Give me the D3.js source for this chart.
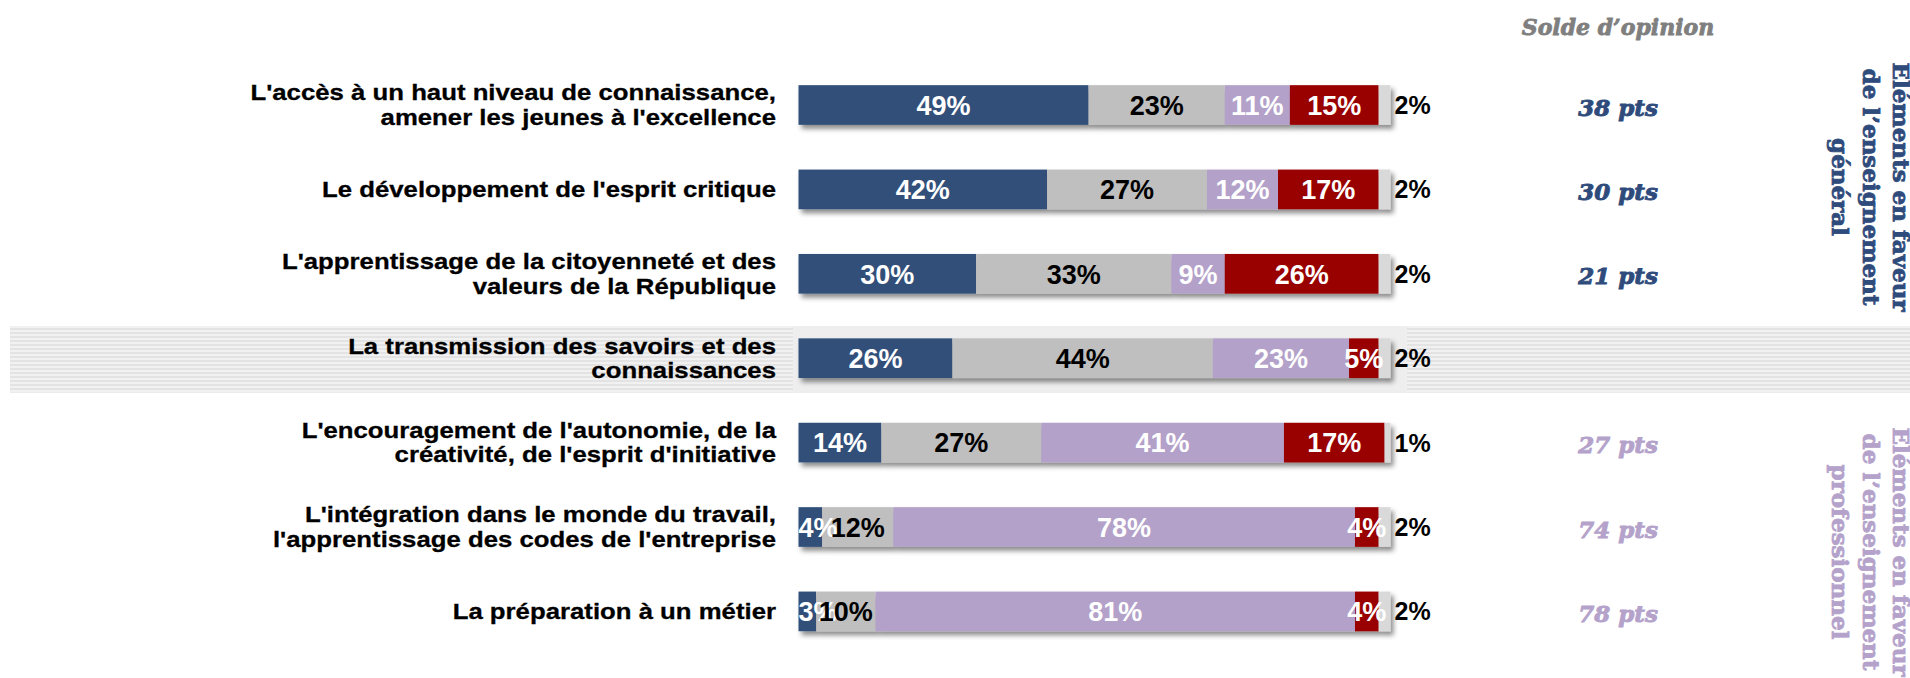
<!DOCTYPE html>
<html>
<head>
<meta charset="utf-8">
<script src="https://cdn.jsdelivr.net/npm/d3@7"></script>
<style>
  html, body { margin: 0; padding: 0; background: #fff; overflow: hidden; }
</style>
</head>
<body>
<div id="my_dataviz"></div>
<script>
// items (left labels), one entry per line
var items = [
    ["L'accès à un haut niveau de connaissance,", "amener les jeunes à l'excellence"],
    ["Le développement de l'esprit critique"],
    ["L'apprentissage de la citoyenneté et des", "valeurs de la République"],
    ["La transmission des savoirs et des", "connaissances"],
    ["L'encouragement de l'autonomie, de la", "créativité, de l'esprit d'initiative"],
    ["L'intégration dans le monde du travail,", "l'apprentissage des codes de l'entreprise"],
    ["La préparation à un métier"]
];

// series values (%)
var pctGeneral = [49, 42, 30, 26, 14, 4, 3];
var pctBoth    = [23, 27, 33, 44, 27, 12, 10];
var pctPro     = [11, 12, 9, 23, 41, 78, 81];
var pctNeither = [15, 17, 26, 5, 17, 4, 4];
var pctNsp     = [2, 2, 2, 2, 1, 2, 2];

// solde d'opinion
var soldes = [38, 30, 21, null, 27, 74, 78];
var soldeSide = ["general", "general", "general", null, "pro", "pro", "pro"];

var sideTitles = {
    general: ["Eléments en faveur", "de l’enseignement", "général"],
    pro: ["Eléments en faveur", "de l’enseignement", "professionnel"]
};

var keys = ["general", "both", "pro", "neither", "nsp"];
var colors = {general: "#30507a", both: "#bfbfbf", pro: "#b3a1c9", neither: "#990000", nsp: "#d9d9d9"};
var textColors = {general: "#fff", both: "#000", pro: "#fff", neither: "#fff", nsp: "#000"};
var sideColors = {general: "#2f4b7b", pro: "#b4a2cb"};

var width = 1910, height = 678;

var rows = items.map(function(d, i) {
    return {id: i, general: pctGeneral[i], both: pctBoth[i], pro: pctPro[i],
            neither: pctNeither[i], nsp: pctNsp[i]};
});

var x = d3.scaleLinear().domain([0, 100]).range([798.5, 1390.5]);
var y = d3.scaleBand().domain(d3.range(items.length))
    .range([62.8, 653.6]).paddingInner(0.53).paddingOuter(0.265);

var svg = d3.select("#my_dataviz")
    .append("svg")
        .attr("width", width)
        .attr("height", height);

var defs = svg.append("defs");

var pat = defs.append("pattern")
    .attr("id", "stripes")
    .attr("patternUnits", "userSpaceOnUse")
    .attr("width", 8).attr("height", 4);
pat.append("rect").attr("width", 8).attr("height", 4).attr("fill", "#f1f1f1");
pat.append("rect").attr("width", 8).attr("height", 2).attr("fill", "#e3e3e3");

defs.append("filter")
    .attr("id", "shadow")
    .attr("x", "-5%").attr("y", "-30%").attr("width", "110%").attr("height", "170%")
  .append("feDropShadow")
    .attr("dx", 3).attr("dy", 4)
    .attr("stdDeviation", 2.5)
    .attr("flood-color", "#000")
    .attr("flood-opacity", 0.45);

// highlighted band behind row 4
var bandTop = 326, bandBottom = 392.7;
svg.append("rect")
    .attr("x", 10).attr("y", bandTop)
    .attr("width", width - 10).attr("height", bandBottom - bandTop)
    .attr("fill", "url(#stripes)");
svg.append("rect")
    .attr("x", 793).attr("y", bandTop)
    .attr("width", 1407 - 793).attr("height", bandBottom - bandTop)
    .attr("fill", "#eeeeee");

// stacked bars
var series = d3.stack().keys(keys)(rows);

var barRows = svg.append("g")
    .selectAll("g")
    .data(rows)
    .join("g")
        .attr("filter", "url(#shadow)");

barRows.selectAll("rect")
    .data(function(r) { return series.map(function(s) { return {key: s.key, v: s[r.id], id: r.id}; }); })
    .join("rect")
        .attr("x", function(d) { return x(d.v[0]); })
        .attr("y", function(d) { return y(d.id); })
        .attr("width", function(d) { return x(d.v[1]) - x(d.v[0]); })
        .attr("height", y.bandwidth())
        .attr("fill", function(d) { return colors[d.key]; });

// value labels
series.forEach(function(s) {
    svg.append("g")
        .selectAll("text")
        .data(s)
        .join("text")
            .attr("x", function(d) {
                return s.key == "nsp" ? x(d[1]) + 4 : (x(d[0]) + x(d[1])) / 2;
            })
            .attr("y", function(d, i) { return y(i) + y.bandwidth() / 2; })
            .attr("dy", "0.36em")
            .attr("text-anchor", s.key == "nsp" ? "start" : "middle")
            .style("font", s.key == "nsp" ? "bold 25px 'Liberation Sans', Arial, sans-serif"
                                          : "bold 27px 'Liberation Sans', Arial, sans-serif")
            .attr("fill", textColors[s.key])
            .text(function(d) { return (d[1] - d[0]) + "%"; })
            .each(function(d) {
                // keep small labels from running off the left of the bar
                if (s.key == "nsp") return;
                var half = this.getComputedTextLength() / 2;
                var cx = +d3.select(this).attr("x");
                if (cx - half < x(0)) d3.select(this).attr("x", x(0) + half);
            });
});

// item labels (slightly wide, like the original)
var labels = svg.append("g")
    .attr("transform", "translate(776,0) scale(1.12,1)");

items.forEach(function(lines, i) {
    var c = y(i) + y.bandwidth() / 2;
    var first = lines.length == 1 ? c + 8 : c - 4.5;
    var t = labels.append("text")
        .attr("text-anchor", "end")
        .style("font", "bold 23px 'Liberation Sans', Arial, sans-serif")
        .attr("fill", "#000")
        .attr("stroke", "#000")
        .attr("stroke-width", 0.3);
    lines.forEach(function(line, j) {
        t.append("tspan")
            .attr("x", 0)
            .attr("y", first + j * 24.3)
            .text(line);
    });
});

// solde d'opinion column
svg.append("text")
    .attr("x", 1618).attr("y", 35)
    .attr("text-anchor", "middle")
    .style("font", "italic bold 22px 'DejaVu Serif', Georgia, serif")
    .attr("fill", "#7f7f7f")
    .attr("stroke", "#7f7f7f")
    .attr("stroke-width", 0.8)
    .text("Solde d’opinion");

svg.append("g")
    .selectAll("text")
    .data(soldes)
    .join("text")
        .attr("x", 1618)
        .attr("y", function(d, i) { return y(i) + y.bandwidth() / 2 + 10.5; })
        .attr("text-anchor", "middle")
        .style("font", "italic bold 23px 'DejaVu Serif', Georgia, serif")
        .attr("fill", function(d, i) { return soldeSide[i] ? sideColors[soldeSide[i]] : "none"; })
        .attr("stroke", function(d, i) { return soldeSide[i] ? sideColors[soldeSide[i]] : "none"; })
        .attr("stroke-width", 0.9)
        .text(function(d) { return d == null ? "" : d + " pts"; });

// rotated side titles
var sideCenters = {general: 187, pro: 552};
Object.keys(sideTitles).forEach(function(k) {
    var t = svg.append("text")
        .attr("transform", "translate(1893," + sideCenters[k] + ") rotate(90)")
        .attr("text-anchor", "middle")
        .style("font", "bold 23px 'DejaVu Serif', Georgia, serif")
        .attr("fill", sideColors[k])
        .attr("stroke", sideColors[k])
        .attr("stroke-width", 0.8);
    sideTitles[k].forEach(function(line, j) {
        t.append("tspan")
            .attr("x", 0)
            .attr("y", j * 30.5)
            .text(line);
    });
});
</script>
</body>
</html>
